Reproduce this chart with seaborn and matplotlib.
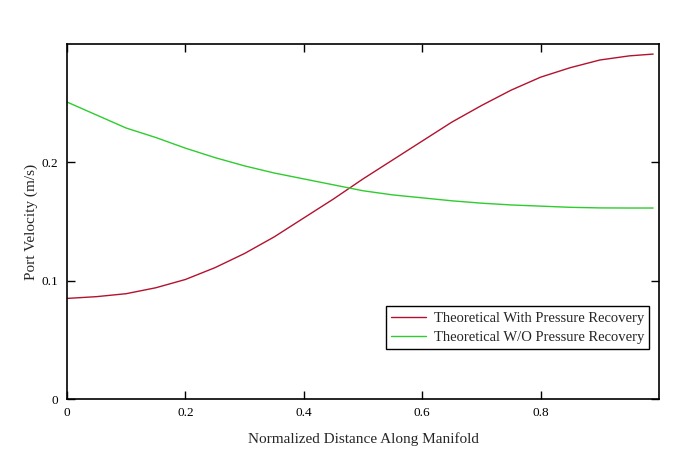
import matplotlib
matplotlib.use("Agg")
import numpy as np
import pandas as pd
import seaborn as sns
import matplotlib.pyplot as plt

# values
distance = [0.0, 0.05, 0.1, 0.15, 0.2, 0.25, 0.3, 0.35, 0.4, 0.45, 0.5,
            0.55, 0.6, 0.65, 0.7, 0.75, 0.8, 0.85, 0.9, 0.95, 0.99]
with_recovery = [0.085, 0.0865, 0.089, 0.094, 0.101, 0.111, 0.123, 0.137, 0.153, 0.169, 0.186,
                 0.202, 0.218, 0.234, 0.248, 0.261, 0.272, 0.280, 0.2865, 0.290, 0.2915]
without_recovery = [0.251, 0.240, 0.229, 0.221, 0.212, 0.204, 0.197, 0.191, 0.186, 0.181, 0.176,
                    0.1725, 0.170, 0.1675, 0.1655, 0.164, 0.163, 0.162, 0.1615, 0.1614, 0.1614]
series_names = ['Theoretical With Pressure Recovery', 'Theoretical W/O Pressure Recovery']
x_ticks = [0, 0.2, 0.4, 0.6, 0.8]
x_tick_labels = ['0', '0.2', '0.4', '0.6', '0.8']
y_ticks = [0, 0.1, 0.2]
y_tick_labels = ['0', '0.1', '0.2']

df = pd.DataFrame({
    'distance': distance * 2,
    'velocity': with_recovery + without_recovery,
    'series': [series_names[0]] * len(distance) + [series_names[1]] * len(distance),
})

sns.set_style("white")
plt.rcParams['font.family'] = ['Liberation Serif', 'DejaVu Serif']

fig = plt.figure(figsize=(6.83, 4.59), dpi=100)
ax = fig.add_axes([0.098, 0.1307, 0.867, 0.7734])

sns.lineplot(data=df, x='distance', y='velocity', hue='series',
             palette={series_names[0]: '#b3122e', series_names[1]: '#2ecc2e'},
             linewidth=1.0, ax=ax)

ax.set_xlim(0, 1.0)
ax.set_ylim(0, 0.3)
ax.set_xticks(x_ticks)
ax.set_xticklabels(x_tick_labels)
ax.set_yticks(y_ticks)
ax.set_yticklabels(y_tick_labels)
ax.tick_params(direction='in', length=6, width=1, colors='black', labelsize=9.5,
               top=True, right=True, left=True, bottom=True, pad=6)
for s in ax.spines.values():
    s.set_color('black')
    s.set_linewidth(1.2)

ax.set_xlabel('Normalized Distance Along Manifold', fontsize=11, labelpad=9)
ax.set_ylabel('Port Velocity (m/s)', fontsize=11, labelpad=3)

leg = ax.legend(loc='lower right', bbox_to_anchor=(0.983, 0.141), borderaxespad=0,
                fontsize=10.5, frameon=True, fancybox=False, handlelength=2.4,
                borderpad=0.35, labelspacing=0.4, handletextpad=0.5)
leg.get_frame().set_edgecolor('black')
leg.get_frame().set_linewidth(1.0)
leg.get_frame().set_alpha(1)

fig.savefig('out.png', dpi=100)
